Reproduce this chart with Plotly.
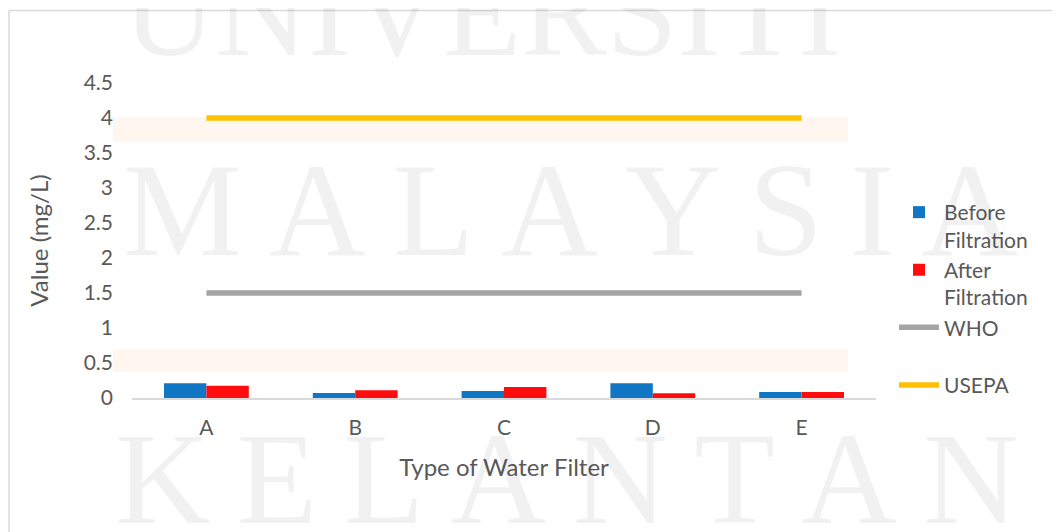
import plotly.graph_objects as go

categories = ["A", "B", "C", "D", "E"]
before = [0.21, 0.07, 0.10, 0.21, 0.085]
after = [0.175, 0.11, 0.157, 0.067, 0.085]
who_limit = [1.5, 1.5, 1.5, 1.5, 1.5]
usepa_limit = [4, 4, 4, 4, 4]
y_ticks = [0, 0.5, 1, 1.5, 2, 2.5, 3, 3.5, 4, 4.5]
y_tick_labels = ["0", "0.5", "1", "1.5", "2", "2.5", "3", "3.5", "4", "4.5"]

FONT = "Lato"
TXT = "#595959"
OFF = 8  # page body offset

fig = go.Figure()
fig.add_trace(go.Bar(x=categories, y=before, name="Before<br>Filtration",
                     marker=dict(color="#1177C4", line=dict(width=0)), legendgroup="g1"))
fig.add_trace(go.Bar(x=categories, y=after, name="After<br>Filtration",
                     marker=dict(color="#FF0D0D", line=dict(width=0)), legendgroup="g2"))
fig.add_trace(go.Scatter(x=categories, y=who_limit, name="WHO<br> ", mode="lines",
                         line=dict(color="#A5A5A5", width=5.5), legendgroup="g3"))
fig.add_trace(go.Scatter(x=categories, y=usepa_limit, name="USEPA", mode="lines",
                         line=dict(color="#FFC000", width=5.5), legendgroup="g4"))

# plot area in page pixels: x 132..876, y 83..398
def px_x(p):
    return (p - 132) / 744.0

def px_y(p):
    return (398 - p) / 315.0

shapes = [
    dict(type="rect", xref="paper", yref="paper", x0=px_x(113), x1=px_x(848),
         y0=px_y(142), y1=px_y(117), fillcolor="#FEF6EF", line=dict(width=0), layer="below"),
    dict(type="rect", xref="paper", yref="paper", x0=px_x(113), x1=px_x(848),
         y0=px_y(372), y1=px_y(349), fillcolor="#FEF6EF", line=dict(width=0), layer="below"),
    dict(type="line", xref="paper", yref="paper", x0=px_x(9), x1=px_x(1062),
         y0=px_y(10.5), y1=px_y(10.5), line=dict(color="#D9D9D9", width=1.5)),
    dict(type="line", xref="paper", yref="paper", x0=px_x(9), x1=px_x(9),
         y0=px_y(10.5), y1=px_y(540), line=dict(color="#D9D9D9", width=1.5)),
]

wm = "rgba(0,0,0,0.055)"
ts = "\u2009"
annotations = [
    dict(text="UNIVERSITI", xref="paper", yref="paper", x=px_x(482), y=px_y(12),
         showarrow=False, font=dict(family="Liberation Serif", size=128, color=wm),
         xanchor="center", yanchor="middle"),
    dict(text=ts.join("MALAYSIA"), xref="paper", yref="paper", x=px_x(570), y=px_y(210),
         showarrow=False, font=dict(family="Liberation Serif", size=134, color=wm),
         xanchor="center", yanchor="middle"),
    dict(text=ts.join("KELANTAN"), xref="paper", yref="paper", x=px_x(567), y=px_y(478),
         showarrow=False, font=dict(family="Liberation Serif", size=132, color=wm),
         xanchor="center", yanchor="middle"),
]

W, H = 1060 - OFF, 532 - OFF
fig.update_layout(
    width=W, height=H,
    margin=dict(l=132 - OFF, r=1060 - 876, t=83 - OFF, b=532 - 398),
    paper_bgcolor="white", plot_bgcolor="rgba(0,0,0,0)",
    barmode="group", bargap=0.43, bargroupgap=0,
    font=dict(family=FONT, size=21, color=TXT),
    showlegend=True,
    legend=dict(x=px_x(894), y=px_y(192), xanchor="left", yanchor="top",
                font=dict(family=FONT, size=21, color=TXT), valign="top",
                tracegroupgap=0, bgcolor="rgba(0,0,0,0)", itemwidth=40),
    xaxis=dict(range=[-0.5, 4.5], showgrid=False, showline=True, linecolor="#D9D9D9",
               linewidth=1.5, ticks="", tickfont=dict(size=21, color=TXT), ticklabelstandoff=10,
               title=dict(text="Type of Water Filter", font=dict(size=24, color=TXT), standoff=21),
               zeroline=False),
    yaxis=dict(range=[0, 4.5], tickvals=y_ticks, ticktext=y_tick_labels, showgrid=False,
               showline=False, zeroline=False, ticks="", tickfont=dict(size=21, color=TXT),
               ticklabelstandoff=18,
               title=dict(text="Value (mg/L)", font=dict(size=24, color=TXT), standoff=28)),
    shapes=shapes,
    annotations=annotations,
)

fig.write_html("out.html")
